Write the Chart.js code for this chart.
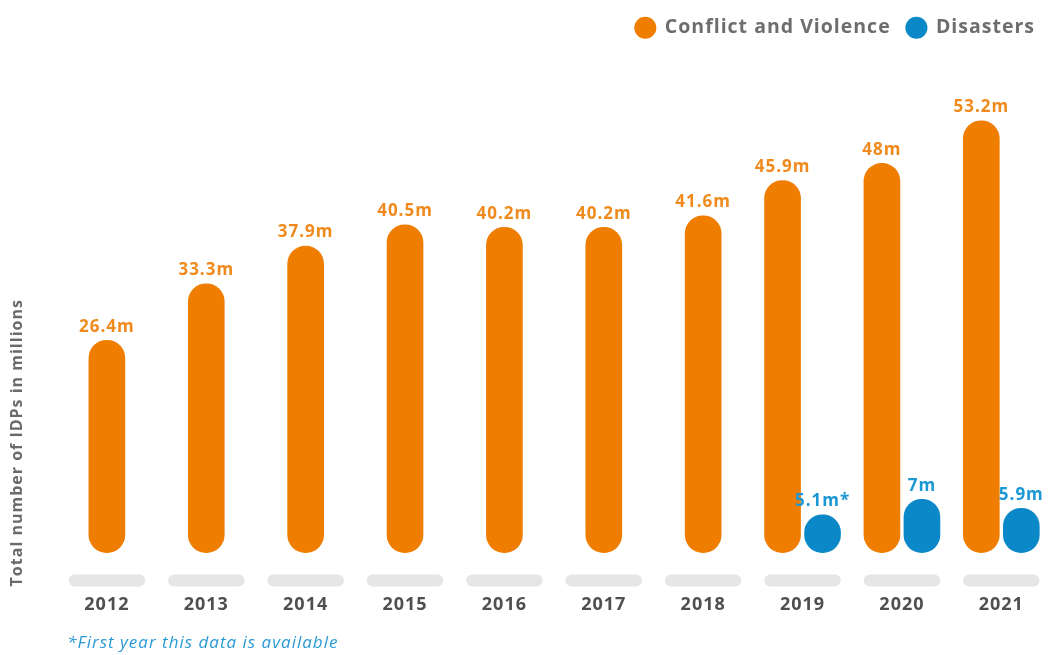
<!DOCTYPE html>
<html><head><meta charset="utf-8">
<script src="https://cdn.jsdelivr.net/npm/chart.js@4.4.1/dist/chart.umd.min.js"></script>
<style>html,body{margin:0;padding:0;background:#fff;} #wrap{width:1051px;height:655px;position:relative;}</style>
</head><body><div id="wrap"><canvas id="c"></canvas></div>
<script>
const years = ['2012','2013','2014','2015','2016','2017','2018','2019','2020','2021'];
const conflictValues = [26.4, 33.3, 37.9, 40.5, 40.2, 40.2, 41.6, 45.9, 48, 53.2];
const disasterValues = [null, null, null, null, null, null, null, 5.1, 7, 5.9];
const conflictLabels = ['26.4m','33.3m','37.9m','40.5m','40.2m','40.2m','41.6m','45.9m','48m','53.2m'];
const disasterLabels = [null, null, null, null, null, null, null, '5.1m*', '7m', '5.9m'];
const seriesNames = ['Conflict and Violence', 'Disasters'];
const yAxisTitle = 'Total number of IDPs in millions';
const footnote = '*First year this data is available';

const ORANGE = '#EF7D00';
const BLUE = '#0A88C8';
const ORANGE_TXT = '#F08A1C';
const BLUE_TXT = '#1B98D4';
const FONT = "'Open Sans', Lato, sans-serif";
Chart.defaults.font.family = FONT;

const spacingPlugin = {
  id: 'spacing',
  beforeUpdate(chart) { chart.ctx.letterSpacing = '1px'; },
  beforeLayout(chart) { chart.ctx.letterSpacing = '1px'; },
  beforeDraw(chart) { chart.ctx.letterSpacing = '1px'; }
};

const pillPlugin = {
  id: 'pills',
  beforeDatasetsDraw(chart) {
    const {ctx, chartArea, scales: {x}} = chart;
    const w = x.width / years.length * 0.77;
    ctx.save();
    ctx.fillStyle = '#E6E6E6';
    years.forEach((_, i) => {
      const cx = x.getPixelForTick(i);
      ctx.beginPath();
      ctx.roundRect(cx - w / 2, chartArea.bottom - 12, w, 12, 6);
      ctx.fill();
    });
    ctx.restore();
  }
};

const labelPlugin = {
  id: 'valueLabels',
  afterDatasetsDraw(chart) {
    const {ctx} = chart;
    const sets = [[conflictLabels, ORANGE_TXT], [disasterLabels, BLUE_TXT]];
    ctx.save();
    ctx.font = 'bold 17px ' + FONT;
    ctx.textAlign = 'center';
    ctx.textBaseline = 'bottom';
    sets.forEach(([labels, color], di) => {
      const meta = chart.getDatasetMeta(di);
      meta.data.forEach((el, i) => {
        if (labels[i] == null) return;
        ctx.fillStyle = color;
        ctx.fillText(labels[i], el.x, el.y - 3);
      });
    });
    ctx.restore();
  }
};

const footnotePlugin = {
  id: 'footnote',
  afterDraw(chart) {
    const {ctx, chartArea} = chart;
    ctx.save();
    ctx.font = 'italic 17px ' + FONT;
    ctx.fillStyle = '#2A9AD6';
    ctx.textAlign = 'left';
    ctx.textBaseline = 'middle';
    ctx.fillText(footnote, chartArea.left + 10, chart.height - 12);
    ctx.restore();
  }
};

new Chart(document.getElementById('c'), {
  type: 'bar',
  data: {
    labels: years,
    datasets: [
      { label: seriesNames[0], data: conflictValues, backgroundColor: ORANGE, borderColor: '#fff', borderWidth: 2, borderSkipped: false, borderRadius: 100, barThickness: 40 },
      { label: seriesNames[1], data: disasterValues, backgroundColor: BLUE, borderColor: '#fff', borderWidth: 2, borderSkipped: false, borderRadius: 100, barThickness: 40 }
    ]
  },
  options: {
    responsive: true,
    maintainAspectRatio: false,
    animation: false,
    skipNull: true,
    layout: { padding: { top: 2, right: 0, left: 0, bottom: 31 } },
    scales: {
      x: {
        grid: { display: false, drawTicks: false },
        border: { display: false },
        ticks: { color: '#4F4F4F', font: { size: 18, weight: 'bold' }, padding: 8 }
      },
      y: {
        min: -3.88,
        max: 61.9,
        grid: { display: false, drawTicks: false },
        border: { display: false },
        ticks: { display: false },
        title: { display: true, text: yAxisTitle, align: 'start', color: '#6A6A6A', font: { size: 16, weight: 'bold' }, padding: { top: 8, bottom: 30 } }
      }
    },
    plugins: {
      legend: {
        position: 'top',
        align: 'end',
        labels: { usePointStyle: true, pointStyle: 'circle', boxHeight: 17, color: '#6D6D6D', font: { size: 19.5, weight: 'bold' }, padding: 16 }
      },
      title: { display: false },
      tooltip: { enabled: false }
    }
  },
  plugins: [spacingPlugin, pillPlugin, labelPlugin, footnotePlugin]
});
</script></body></html>
